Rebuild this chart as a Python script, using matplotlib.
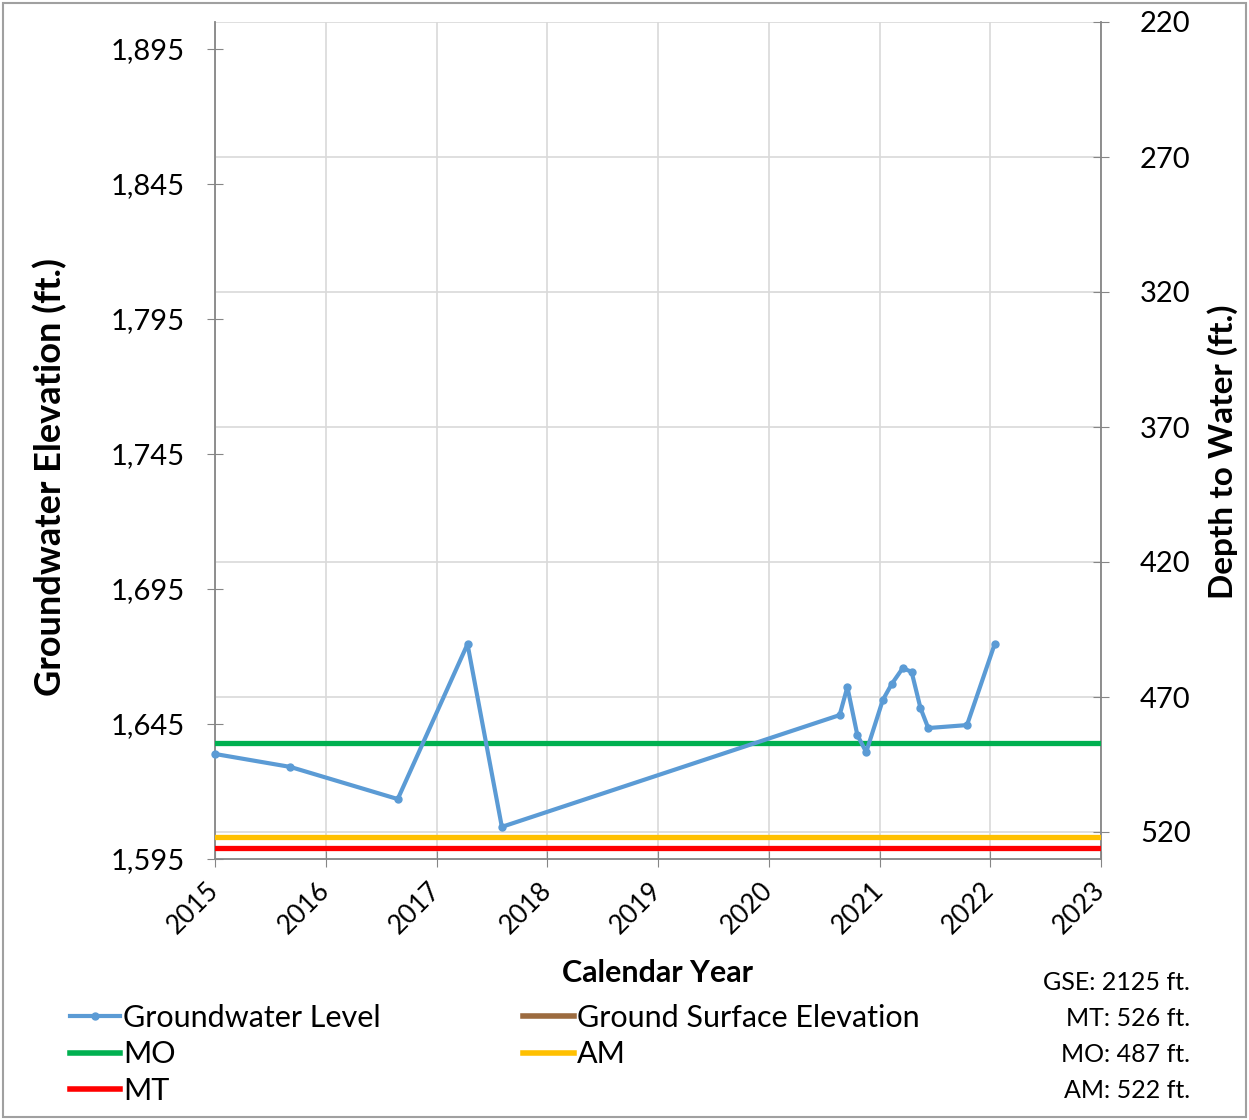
import matplotlib
matplotlib.use("Agg")
import matplotlib.pyplot as plt
import matplotlib.transforms as mtransforms
from matplotlib.ticker import FixedLocator, FuncFormatter, NullFormatter
from matplotlib.lines import Line2D
from matplotlib.patches import Rectangle

plt.rcParams['font.family'] = ['Lato', 'DejaVu Sans']

# ---- data ----
gw_year = [2015.00, 2015.68, 2016.65, 2017.28, 2017.59, 2020.64, 2020.71, 2020.80,
           2020.88, 2021.03, 2021.11, 2021.21, 2021.29, 2021.37, 2021.44, 2021.79, 2022.04]
gw_elev = [1633.9, 1629.1, 1617.2, 1674.6, 1606.9, 1648.3, 1658.7, 1640.9,
           1634.6, 1653.9, 1659.8, 1665.7, 1664.3, 1650.9, 1643.5, 1644.6, 1674.6]
GSE = 2125
MT_depth = 526
MO_depth = 487
AM_depth = 522
year_ticks = [2015, 2016, 2017, 2018, 2019, 2020, 2021, 2022, 2023]
elev_ticks = [1595, 1645, 1695, 1745, 1795, 1845, 1895]
depth_ticks = [220, 270, 320, 370, 420, 470, 520]
info_lines = ["GSE: 2125 ft.", "MT: 526 ft.", "MO: 487 ft.", "AM: 522 ft."]

c_blue = '#5b9bd5'
c_green = '#00b050'
c_yellow = '#ffc000'
c_red = '#ff0000'
c_brown = '#9c6b3f'
c_grid = '#d9d9d9'
c_axis = '#868686'

W, H = 1249, 1120
fig = plt.figure(figsize=(W/100, H/100), dpi=100)
fig.patches.append(Rectangle((3/W, 3/H), 1-6/W, 1-6/H, transform=fig.transFigure,
                             fill=False, edgecolor='#a0a0a0', linewidth=1.5))

ax = fig.add_axes([215/W, 1-859/H, (1101-215)/W, (859-22)/H])
ylo = GSE - 530
yhi = GSE - 220
ax.set_xlim(2015, 2023)
ax.set_ylim(ylo, yhi)

ax.plot([2015, 2023], [GSE - MO_depth]*2, color=c_green, lw=3.8, zorder=3)
ax.plot([2015, 2023], [GSE - AM_depth]*2, color=c_yellow, lw=3.8, zorder=3)
ax.plot([2015, 2023], [GSE - MT_depth]*2, color=c_red, lw=3.8, zorder=3)
ax.plot([2015, 2023], [GSE]*2, color=c_brown, lw=3.8, zorder=3)
ax.plot(gw_year, gw_elev, color=c_blue, lw=3, marker='o', ms=5, zorder=4, clip_on=False)

# ticks
ax.xaxis.set_major_locator(FixedLocator(year_ticks))
ax.set_xticklabels([str(y) for y in year_ticks], rotation=45, ha='right', va='center',
                   rotation_mode='anchor', fontsize=19)
shift = mtransforms.ScaledTranslation(7/100, -4/100, fig.dpi_scale_trans)
for lab in ax.get_xticklabels():
    lab.set_transform(lab.get_transform() + shift)
ax.yaxis.set_major_locator(FixedLocator(elev_ticks))
ax.yaxis.set_major_formatter(FuncFormatter(lambda v, p: f"{int(v):,}"))
ax.yaxis.set_minor_locator(FixedLocator([GSE - d for d in depth_ticks]))
ax.yaxis.set_minor_formatter(NullFormatter())
ax.tick_params(axis='y', which='major', labelsize=21, direction='inout', length=12,
               color=c_axis, pad=16)
ax.tick_params(axis='y', which='minor', length=0)
ax.tick_params(axis='x', which='major', direction='inout', length=12, color=c_axis,
               pad=14)
ax.grid(True, axis='x', which='major', color=c_grid, lw=1.2)
ax.grid(True, axis='y', which='minor', color=c_grid, lw=1.2)
ax.set_axisbelow(True)
for s in ['left', 'bottom', 'right']:
    ax.spines[s].set_color(c_axis)
    ax.spines[s].set_linewidth(1.3)
ax.spines['top'].set_visible(False)

ax2 = ax.twinx()
ax2.set_ylim(530, 220)
ax2.yaxis.set_major_locator(FixedLocator(depth_ticks))
ax2.tick_params(axis='y', labelsize=21, direction='inout', length=12, color=c_axis, pad=22)
for s in ['left', 'bottom', 'right', 'top']:
    ax2.spines[s].set_visible(False)

fig.text(50/W, 1-477/H, "Groundwater Elevation (ft.)", rotation=90, ha='center',
         va='center', fontsize=26, fontweight='bold')
fig.text(1223/W, 1-452/H, "Depth to Water (ft.)", rotation=90, ha='center',
         va='center', fontsize=24, fontweight='bold')
fig.text(658/W, 1-973/H, "Calendar Year", ha='center', va='center',
         fontsize=22, fontweight='bold')

handles = [
    Line2D([], [], color=c_blue, lw=3, marker='o', ms=5),
    Line2D([], [], color=c_green, lw=4),
    Line2D([], [], color=c_red, lw=4),
    Line2D([], [], color=c_brown, lw=4),
    Line2D([], [], color=c_yellow, lw=4),
]
labels = ["Groundwater Level", "MO", "MT", "Ground Surface Elevation", "AM"]
fig.legend(handles, labels, ncol=2, loc='upper left', bbox_to_anchor=(70/W, 1-1004/H),
           frameon=False, fontsize=22, handlelength=1.65, handletextpad=0.1,
           columnspacing=4.65, labelspacing=0.27, borderpad=0, borderaxespad=0)

for i, t in enumerate(info_lines):
    fig.text(1190/W, 1-(983 + 36*i)/H, t, ha='right', va='center', fontsize=18)

fig.savefig("out.png", dpi=100)
